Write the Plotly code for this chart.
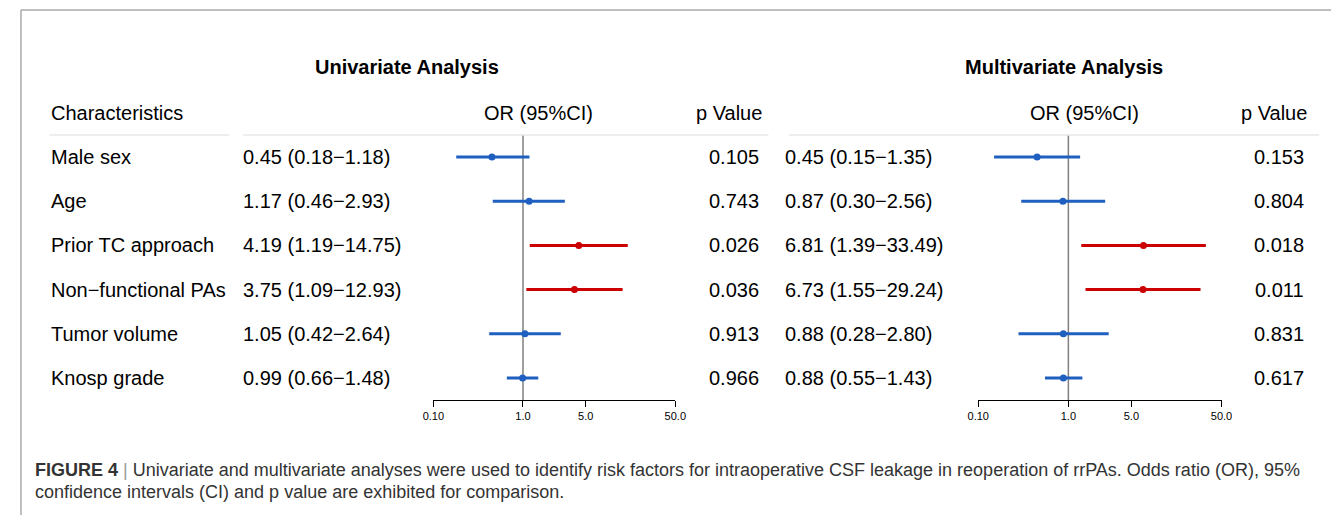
import math
import plotly.graph_objects as go

# ---------------- data ----------------
characteristics = ["Male sex", "Age", "Prior TC approach", "Non\u2212functional PAs",
                   "Tumor volume", "Knosp grade"]

uni_or = [0.45, 1.17, 4.19, 3.75, 1.05, 0.99]
uni_lo = [0.18, 0.46, 1.19, 1.09, 0.42, 0.66]
uni_hi = [1.18, 2.93, 14.75, 12.93, 2.64, 1.48]
uni_p = ["0.105", "0.743", "0.026", "0.036", "0.913", "0.966"]

multi_or = [0.45, 0.87, 6.81, 6.73, 0.88, 0.88]
multi_lo = [0.15, 0.30, 1.39, 1.55, 0.28, 0.55]
multi_hi = [1.35, 2.56, 33.49, 29.24, 2.80, 1.43]
multi_p = ["0.153", "0.804", "0.018", "0.011", "0.831", "0.617"]

tick_vals = [0.1, 1, 5, 50]
tick_text = ["0.10", "1.0", "5.0", "50.0"]

caption_line1 = ("<b>FIGURE 4</b> <span style='color:#999999'>|</span> Univariate and multivariate "
                 "analyses were used to identify risk factors for intraoperative CSF leakage in "
                 "reoperation of rrPAs. Odds ratio (OR), 95%")
caption_line2 = "confidence intervals (CI) and p value are exhibited for comparison."

# ---------------- layout constants ----------------
W, H = 1342, 515                # window size
OFF = 8                         # page body margin
FW, FH = W - OFF, H - OFF       # figure size (fills window to its right/bottom edge)
ROW0, ROWH = 157.0, 44.2
PAD = 2                         # annotation text inset
FONT = "Liberation Sans, Arial, sans-serif"
BLUE = "#1f5fbf"
RED = "#cc0000"


def px(x):
    return (x - OFF) / FW


def py(y):
    return 1 - (y - OFF) / FH


def fmt_ci(o, lo, hi):
    return f"{o:.2f} ({lo:.2f}\u2212{hi:.2f})"


rows = list(range(len(characteristics)))
fig = go.Figure()

panels = [
    dict(xa="x", o=uni_or, lo=uni_lo, hi=uni_hi, p=uni_p),
    dict(xa="x2", o=multi_or, lo=multi_lo, hi=multi_hi, p=multi_p),
]

for pn in panels:
    fig.add_trace(go.Scatter(x=[1, 1], y=[-0.5, 5.5], mode="lines",
                             line=dict(color="#808080", width=1.5),
                             xaxis=pn["xa"], yaxis="y", hoverinfo="skip",
                             showlegend=False))
    for sig, col in [(False, BLUE), (True, RED)]:
        xs, ys = [], []
        for i in rows:
            if (float(pn["p"][i]) < 0.05) == sig:
                xs += [pn["lo"][i], pn["hi"][i], None]
                ys += [i, i, None]
        fig.add_trace(go.Scatter(x=xs, y=ys, mode="lines",
                                 line=dict(color=col, width=3),
                                 xaxis=pn["xa"], yaxis="y", showlegend=False,
                                 hoverinfo="skip"))
    cols = [RED if float(v) < 0.05 else BLUE for v in pn["p"]]
    fig.add_trace(go.Scatter(x=pn["o"], y=rows, mode="markers",
                             marker=dict(color=cols, size=7),
                             xaxis=pn["xa"], yaxis="y", showlegend=False,
                             cliponaxis=False))

ann = []


def text(x, y, s, anchor="left", size=20, bold=False):
    xx = x - PAD if anchor == "left" else (x + PAD if anchor == "right" else x)
    ann.append(dict(x=px(xx), xref="paper", y=y, yref="y", text=(f"<b>{s}</b>" if bold else s),
                    xanchor=anchor, yanchor="middle", showarrow=False,
                    font=dict(family=FONT, size=size, color="#000000")))


text(403, -2.04, "Univariate Analysis", anchor="center", size=20, bold=True)
text(1071, -2.04, "Multivariate Analysis", anchor="center", size=20, bold=True)
text(41, -1, "Characteristics")
text(536, -1, "OR (95%CI)", anchor="center")
text(763, -1, "p Value", anchor="right")
text(1091, -1, "OR (95%CI)", anchor="center")
text(1318, -1, "p Value", anchor="right")

for i in rows:
    text(41, i, characteristics[i])
    text(236, i, fmt_ci(uni_or[i], uni_lo[i], uni_hi[i]))
    text(760, i, uni_p[i], anchor="right")
    text(787, i, fmt_ci(multi_or[i], multi_lo[i], multi_hi[i]))
    text(1315, i, multi_p[i], anchor="right")

for yy, s in [(470, caption_line1), (492, caption_line2)]:
    ann.append(dict(x=px(24 - PAD), xref="paper", y=py(yy), yref="paper", text=s,
                    xanchor="left", yanchor="middle", showarrow=False,
                    font=dict(family=FONT, size=18, color="#333333")))

shapes = []
for x0, x1 in [(39, 222), (236, 770), (791, 1330)]:
    shapes.append(dict(type="line", xref="paper", yref="y", x0=px(x0), x1=px(x1),
                       y0=-0.5, y1=-0.5, line=dict(color="#e8e8e8", width=1.5)))
# figure frame (top and left)
shapes.append(dict(type="line", xref="paper", yref="paper", x0=px(10), x1=1.0,
                   y0=py(10), y1=py(10), line=dict(color="#aaaaaa", width=1.5)))
shapes.append(dict(type="line", xref="paper", yref="paper", x0=px(10), x1=px(10),
                   y0=py(10), y1=0.0, line=dict(color="#aaaaaa", width=1.5)))

axis_common = dict(type="log", range=[math.log10(tick_vals[0]), math.log10(tick_vals[-1])],
                   anchor="free", position=py(400), showline=True, linecolor="#000000",
                   linewidth=1.3, ticks="outside", ticklen=6, tickwidth=1.3,
                   tickcolor="#000000", tickvals=tick_vals, ticktext=tick_text,
                   tickfont=dict(family=FONT, size=11, color="#000000"),
                   showgrid=False, zeroline=False, fixedrange=True)

fig.update_layout(
    width=FW, height=FH, margin=dict(l=0, r=0, t=0, b=0),
    paper_bgcolor="white", plot_bgcolor="rgba(0,0,0,0)",
    xaxis=dict(domain=[px(429.3), px(675.3)], **axis_common),
    xaxis2=dict(domain=[px(983.3), px(1230.7)], **axis_common),
    yaxis=dict(domain=[0, 1],
               range=[(OFF + FH - ROW0) / ROWH, (OFF - ROW0) / ROWH],
               visible=False, fixedrange=True),
    annotations=ann, shapes=shapes, showlegend=False,
)

fig.write_html("out.html")
